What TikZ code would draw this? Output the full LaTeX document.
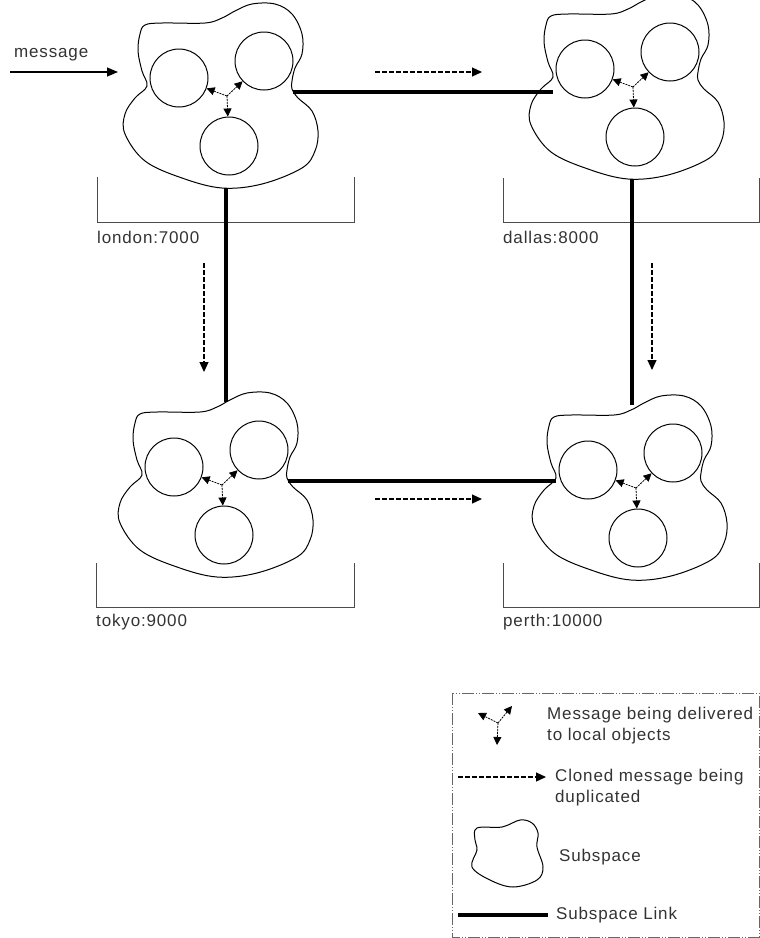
\documentclass[tikz,border=0pt]{standalone}
\usepackage{fontspec}
\setmainfont{Liberation Sans}[LetterSpace=5]
\usetikzlibrary{positioning, arrows.meta, calc}

\begin{document}
\begin{tikzpicture}[
  x=1pt, y=-1pt,
  blob/.style={draw, line width=1pt},
  obj/.style={circle, draw, fill=white, line width=1pt, minimum size=58pt, inner sep=0pt},
  deliver/.style={-{Triangle[length=8pt, width=8pt]}, line width=0.8pt, dash pattern=on 2pt off 1pt},
  clone/.style={-{Triangle[length=10pt, width=9pt]}, line width=1.2pt, dash pattern=on 5pt off 2pt},
  msg/.style={-{Triangle[length=11pt, width=9pt]}, line width=1.2pt},
  link/.style={line width=4pt},
  bracket/.style={draw=black!70, line width=1pt},
  tag/.style={anchor=west, inner sep=0pt, text=black!80, font=\fontsize{17}{21}\selectfont},
  legendbox/.style={draw=black!60, line width=0.8pt, dash pattern=on 12pt off 2pt on 1pt off 2pt on 1pt off 2pt},
  subspace/.pic={
    \draw[blob] plot[smooth cycle, tension=0.6] coordinates {(-84,-121) (-67,-123) (-24,-123) (-7,-128) (6,-135) (23,-142) (46,-142) (63,-132) (73,-112) (73,-92) (66,-78) (63,-65) (63,-57) (69,-48) (83,-35) (89,-15) (86,5) (73,22) (33,38) (-7,42) (-47,32) (-84,15) (-104,-12) (-104,-32) (-94,-48) (-82,-60) (-87,-75) (-91,-95) (-89,-112)};
    \node[obj] (-l) at (-50,-68) {};
    \node[obj] (-r) at (35,-85) {};
    \node[obj] (-b) at (0,0) {};
    \coordinate (-j) at (-2,-50);
    \draw[deliver] (-j) -- (-l);
    \draw[deliver] (-j) -- (-r);
    \draw[deliver] (-j) -- (-b);
    \coordinate (-top) at (-3,-133);
    \coordinate (-bot) at (-3,42);
    \coordinate (-east) at (64,-54);
    \coordinate (-west) at (-82,-54);
  }
]
\useasboundingbox (0,0) rectangle (760,938);

% Subspaces
\pic (london) at (229,146) {subspace};
\pic (dallas) at (635,137) {subspace};
\pic (tokyo) at (224,535) {subspace};
\pic (perth) at (638,538) {subspace};

% Hosts
\draw[bracket] (97,177) |- (354,222) -- (354,177);
\draw[bracket] (503,178) |- (759,222) -- (759,178);
\draw[bracket] (96,563) |- (354,607) -- (354,563);
\draw[bracket] (503,563) |- (759,607) -- (759,563);
\node[tag] (londonlbl) at (97,237) {london:7000};
\node[tag] (dallaslbl) at (503,237) {dallas:8000};
\node[tag] (tokyolbl) at (96,622) {tokyo:9000};
\node[tag] (perthlbl) at (503,622) {perth:10000};

% Subspace links
\draw[link] (london-east) -- (london-east -| dallas-west);
\draw[link] (tokyo-east) -- (tokyo-east -| perth-west);
\draw[link] (london-bot) -- (london-bot |- tokyo-top);
\draw[link] (dallas-bot) -- (dallas-bot |- perth-top);

% Incoming message
\node[tag] (msgtxt) at (14,55) {message};
\coordinate (msgin) at (10,72);
\coordinate (msgout) at (118,72);
\draw[msg] (msgin) -- (msgout);

% Cloned messages
\coordinate (ld1) at (375,72);  \coordinate (ld2) at (482,72);
\coordinate (tp1) at (375,499); \coordinate (tp2) at (482,499);
\coordinate (lt1) at (204,263); \coordinate (lt2) at (204,372);
\coordinate (dp1) at (652,263); \coordinate (dp2) at (652,370);
\draw[clone] (ld1) -- (ld2);
\draw[clone] (tp1) -- (tp2);
\draw[clone] (lt1) -- (lt2);
\draw[clone] (dp1) -- (dp2);

% Legend
\draw[legendbox] (452,693) rectangle (759,937);
\coordinate (kj) at (498,723);
\coordinate (kl) at (478,713);
\coordinate (kr) at (512,706);
\coordinate (kb) at (497,745);
\draw[deliver] (kj) -- (kl);
\draw[deliver] (kj) -- (kr);
\draw[deliver] (kj) -- (kb);
\node[tag, align=left] (k1) at (547,726) {Message being delivered\\to local objects};
\coordinate (kc1) at (458,777); \coordinate (kc2) at (546,777);
\draw[clone] (kc1) -- (kc2);
\node[tag, align=left] (k2) at (555,788) {Cloned message being\\duplicated};
\draw[blob] plot[smooth cycle, tension=0.6] coordinates {(477,828) (502,827) (520,820) (532,823) (538,833) (537,847) (543,867) (537,880) (513,887) (490,880) (472,867) (477,850) (475,840)};
\node[tag] (k3) at (559,857) {Subspace};
\coordinate (kl1) at (458,915); \coordinate (kl2) at (548,915);
\draw[link] (kl1) -- (kl2);
\node[tag] (k4) at (556,915) {Subspace Link};

\end{tikzpicture}
\end{document}
